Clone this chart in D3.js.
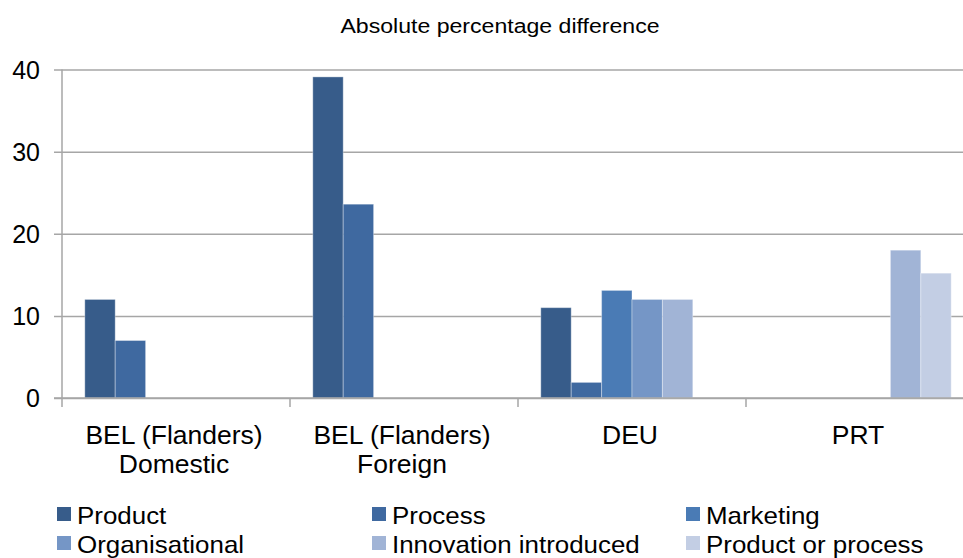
<!DOCTYPE html>
<html>
<head>
<meta charset="utf-8">
<script src="https://cdn.jsdelivr.net/npm/d3@7"></script>
<style>
    body { margin: 0; background: #fff; }
    text { font-family: "Liberation Sans", Arial, sans-serif; fill: #000; }
</style>
</head>
<body>
<svg id="chart" width="963" height="558"></svg>
<script>
// data
const categories = ["BEL (Flanders)|Domestic", "BEL (Flanders)|Foreign", "DEU", "PRT"];
const seriesNames = ["Product", "Process", "Marketing", "Organisational", "Innovation introduced", "Product or process"];
const product = [12, 39.1, 11, null];
const process = [7, 23.6, 1.9, null];
const marketing = [null, null, 13.1, null];
const organisational = [null, null, 12, null];
const innovation = [null, null, 12, 18];
const productOrProcess = [null, null, null, 15.2];
const yTicks = [0, 10, 20, 30, 40];

const seriesValues = [product, process, marketing, organisational, innovation, productOrProcess];
const color = ['#375c8a', '#3f69a0', '#4a7bb5', '#7596c6', '#a1b4d6', '#c3cee4'];

const svg = d3.select("#chart");

const plotLeft = 62, plotRight = 974, plotTop = 69.5, plotBottom = 398;

const x = d3.scaleBand()
    .domain(categories)
    .range([plotLeft, plotRight])
    .padding(0);

const xSub = d3.scaleBand()
    .domain(seriesNames)
    .range([0, x.bandwidth()])
    .paddingInner(0)
    .paddingOuter(0.75);

const y = d3.scaleLinear()
    .domain([0, 40])
    .range([plotBottom, plotTop]);

// title
svg.append("text")
    .attr("transform", "translate(500,33) scale(1.1,1)")
    .attr("text-anchor", "middle")
    .style("font-size", "21px")
    .text("Absolute percentage difference");

// gridlines + y tick labels
const yAxis = svg.append("g")
    .attr("transform", `translate(${plotLeft},0)`)
    .call(d3.axisLeft(y).tickValues(yTicks).tickSize(0).tickPadding(0));
yAxis.select(".domain").remove();
yAxis.selectAll(".tick line")
    .attr("x1", -8)
    .attr("x2", plotRight - plotLeft)
    .attr("stroke", "#a6a6a6")
    .attr("stroke-width", 1.5);
yAxis.selectAll(".tick text")
    .attr("x", null)
    .attr("dy", null)
    .attr("transform", "translate(-22,8.5)")
    .attr("text-anchor", "end")
    .style("font-family", "Liberation Sans, Arial, sans-serif")
    .style("font-size", "25px")
    .attr("fill", "#000");

// bars
const groups = svg.append("g").selectAll("g")
    .data(categories)
    .join("g")
    .attr("transform", d => `translate(${x(d)},0)`);

groups.selectAll("rect")
    .data((c, ci) => seriesNames.map((s, si) => ({ s: s, si: si, v: seriesValues[si][ci] }))
        .filter(d => d.v != null))
    .join("rect")
    .attr("x", d => xSub(d.s))
    .attr("y", d => y(d.v))
    .attr("width", xSub.bandwidth())
    .attr("height", d => y(0) - y(d.v))
    .style("fill", d => color[d.si])
    .style("stroke", "rgba(255,255,255,0.35)")
    .style("stroke-width", 1);

// y axis line and category boundary ticks
svg.append("line")
    .attr("x1", plotLeft).attr("x2", plotLeft)
    .attr("y1", plotTop).attr("y2", plotBottom + 9)
    .attr("stroke", "#a6a6a6").attr("stroke-width", 1.5);
svg.append("line")
    .attr("x1", plotLeft - 8).attr("x2", plotRight)
    .attr("y1", y(0)).attr("y2", y(0))
    .attr("stroke", "#a6a6a6").attr("stroke-width", 1.5);
svg.append("g").selectAll("line")
    .data(categories.slice(1))
    .join("line")
    .attr("x1", d => x(d)).attr("x2", d => x(d))
    .attr("y1", plotBottom).attr("y2", plotBottom + 9)
    .attr("stroke", "#a6a6a6").attr("stroke-width", 1.5);

// category labels
const catLabels = svg.append("g").selectAll("text")
    .data(categories)
    .join("text")
    .attr("transform", d => `translate(${x(d) + x.bandwidth() / 2 - 2},444) scale(1.06,1)`)
    .attr("text-anchor", "middle")
    .style("font-size", "25px");
catLabels.selectAll("tspan")
    .data(d => d.split("|"))
    .join("tspan")
    .attr("x", 0)
    .attr("dy", (d, i) => i === 0 ? 0 : 29)
    .text(d => d);

// legend, 3 columns x 2 rows
const legendX = [57, 372, 686];
const legendY = [507, 536];
const legend = svg.append("g").selectAll("g")
    .data(seriesNames)
    .join("g")
    .attr("transform", (d, i) => `translate(${legendX[i % 3]},${legendY[Math.floor(i / 3)]})`);
legend.append("rect")
    .attr("width", 14)
    .attr("height", 14)
    .style("fill", (d, i) => color[i]);
legend.append("text")
    .attr("transform", "translate(20,16.5) scale(1.08,1)")
    .style("font-size", "24px")
    .text(d => d);
</script>
</body>
</html>
